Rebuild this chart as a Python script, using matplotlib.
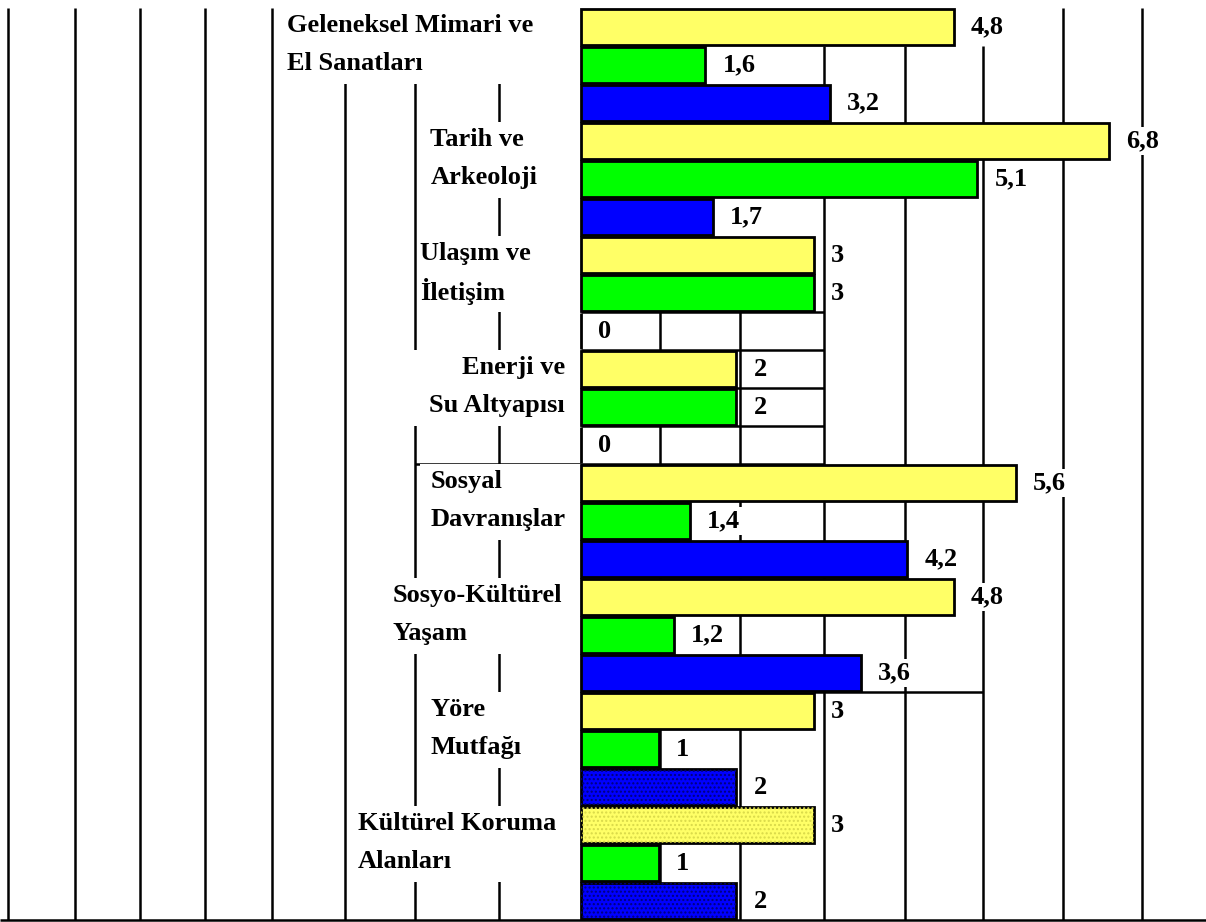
import numpy as np
import matplotlib.pyplot as plt
from matplotlib.patches import Rectangle

# kategori etiketleri (iki satır)
label_top = ["Geleneksel Mimari ve", "Tarih ve", "Ulaşım ve", "Enerji ve",
             "Sosyal", "Sosyo-Kültürel", "Yöre", "Kültürel Koruma"]
label_bottom = ["El Sanatları", "Arkeoloji", "İletişim", "Su Altyapısı",
                "Davranışlar", "Yaşam", "Mutfağı", "Alanları"]

# seriler
yellow_vals = [4.8, 6.8, 3, 2, 5.6, 4.8, 3, 3]
green_vals = [1.6, 5.1, 3, 2, 1.4, 1.2, 1, 1]
blue_vals = [3.2, 1.7, 0, 0, 4.2, 3.6, 2, 2]

colors = ["#FFFF66", "#00FF00", "#0000FF"]

# yerleşim (birim = değer ekseni)
PX = 77.7          # piksel / birim
X0 = 581           # 0 noktasının pikseli
FS = 19
label_x = [-3.78, -1.94, -2.07, -0.21, -1.94, -2.43, -1.94, -2.87]
label_ha = ["left", "left", "left", "right", "left", "left", "left", "left"]
box_left = [-3.87, -2.07, -2.09, -2.33, -2.07, -2.59, -2.07, -2.97]
grid_left = [-7.375, -6.51, -5.68, -4.84, -3.98, -3.04, -2.14, -1.055]
grid_right = [1.02, 2.05, 3.13, 4.17, 5.17, 6.20, 7.22]
grid_right_top = [7.5, 7.5, 0.5, 0.5, 0.5, -0.5, -0.5]

plt.rcParams['font.family'] = ['Liberation Serif', 'DejaVu Serif']

fig = plt.figure(figsize=(12.06, 9.22), dpi=100)
ax = fig.add_axes([0, 0, 1, 1])
ax.set_xlim(-X0 / PX, (1206 - X0) / PX)
ax.set_ylim((922 - 27) / 38, -27 / 38)
ax.axis("off")

n = len(label_top)
rows = np.arange(3 * n)
top, bottom = -0.5, 3 * n - 0.5
line_kw = dict(color="black", lw=1.8, zorder=1, solid_capstyle="butt")

# dikey çizgiler
for gx in grid_left:
    ax.plot([gx, gx], [top, bottom], **line_kw)
for gx, gt in zip(grid_right, grid_right_top):
    ax.plot([gx, gx], [gt, bottom], **line_kw)
ax.plot(ax.get_xlim(), [bottom, bottom], **line_kw)

# tablo benzeri yatay çizgiler
for b in [7.5, 8.5, 9.5, 10.5]:
    ax.plot([0, grid_right[2]], [b, b], **line_kw)
ax.plot([grid_left[6], grid_right[2]], [11.5, 11.5], **line_kw)
ax.plot([3, grid_right[4]], [17.5, 17.5], **line_kw)

# etiket kutuları
for i in range(n):
    ax.add_patch(Rectangle((box_left[i], 3 * i - 0.5), -box_left[i], 2,
                           facecolor="white", edgecolor="none", zorder=2))
    ax.text(label_x[i], 3 * i - 0.05, label_top[i], ha=label_ha[i], va="center",
            fontsize=FS, fontweight="bold", zorder=3)
    ax.text(label_x[i], 3 * i + 0.95, label_bottom[i], ha=label_ha[i], va="center",
            fontsize=FS, fontweight="bold", zorder=3)

# çubuklar
for s, vals in enumerate([yellow_vals, green_vals, blue_vals]):
    ys = rows[s::3]
    ax.barh(ys, vals, height=0.94, color=colors[s], edgecolor="black",
            linewidth=2, zorder=4)
    for y, v in zip(ys, vals):
        ax.text(v + 0.22, y, f"{v:g}".replace(".", ","), ha="left", va="center",
                fontsize=FS, fontweight="bold", zorder=6,
                bbox=dict(facecolor="white", edgecolor="none", pad=2))

# son kategorilerdeki noktalı doku
ax.barh(rows[20::3], blue_vals[6:], height=0.94, color="none",
        edgecolor="#00007a", hatch="....", linewidth=0, zorder=5)
ax.barh([rows[21]], [yellow_vals[7]], height=0.94, color="none",
        edgecolor="#d9d94a", hatch="....", linewidth=0, zorder=5)

fig.savefig("out.png", dpi=100)
